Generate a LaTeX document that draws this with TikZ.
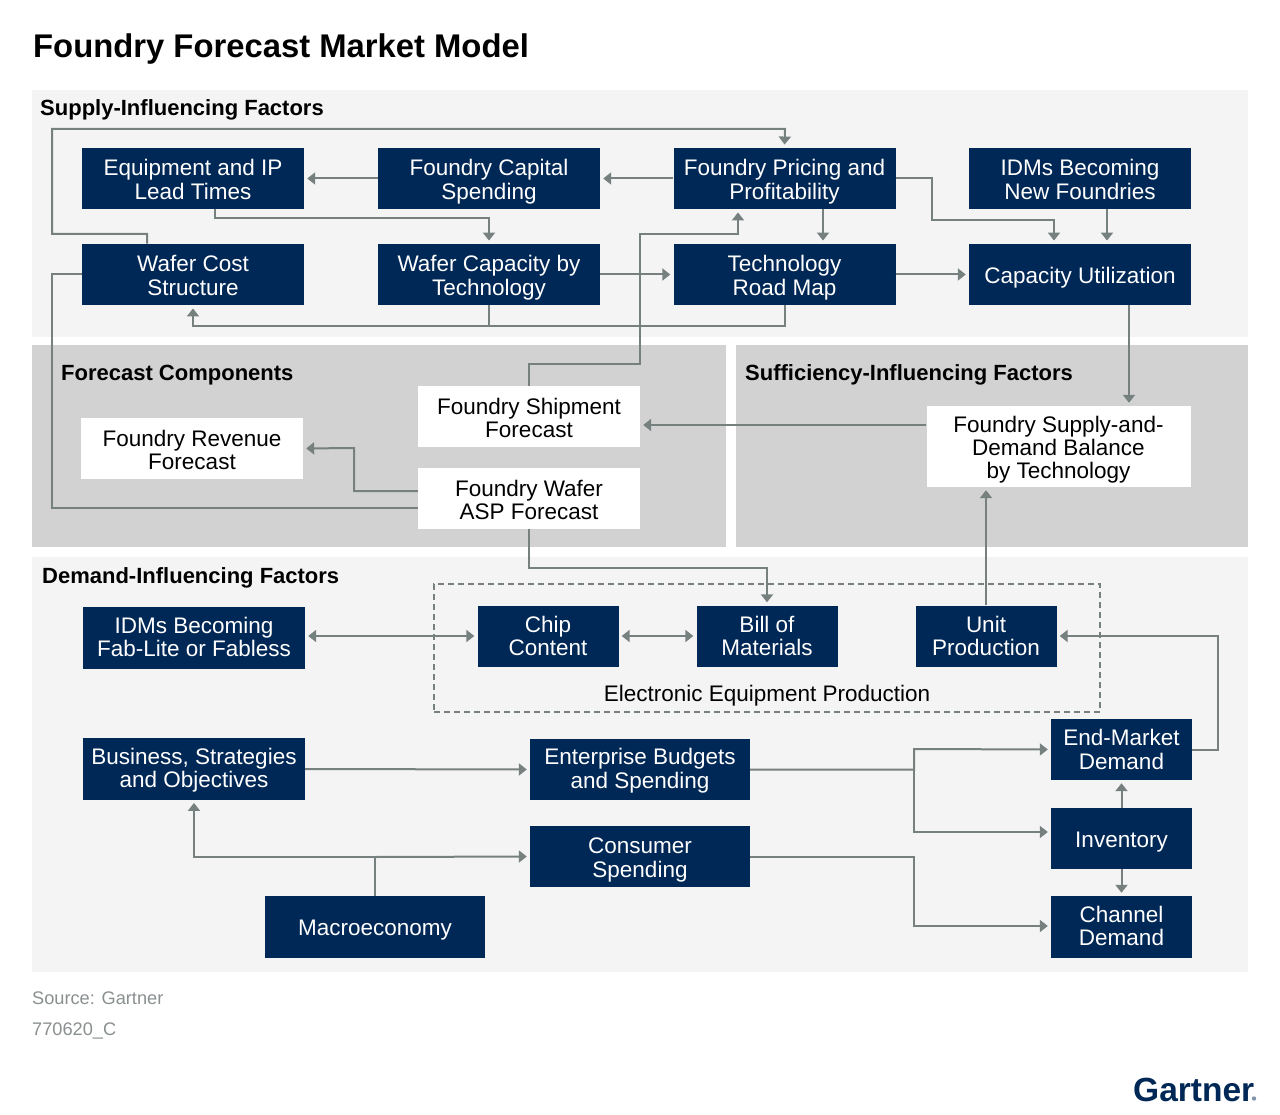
\documentclass[tikz,border=0pt]{standalone}
\usepackage{fontspec}
\setmainfont{Liberation Sans}
\usetikzlibrary{arrows.meta,calc}
\definecolor{navy}{HTML}{002856}
\definecolor{wire}{HTML}{75807F}
\definecolor{panelA}{HTML}{F4F4F4}
\definecolor{panelB}{HTML}{D2D2D2}
\definecolor{note}{HTML}{8A8F90}
\newcommand{\toph}{24pt}
\newcommand{\both}{6pt}
\newcommand{\tp}{\rule{0pt}{\toph}}
\newcommand{\bt}{\rule[-\both]{0pt}{\both}}
\tikzset{
  x=1pt,y=-1pt,
  two/.code={\def\toph{24pt}\def\both{6pt}},
  twomid/.code={\def\toph{22pt}\def\both{6pt}},
  twolow/.code={\def\toph{20pt}\def\both{6pt}},
  single/.code={\def\toph{22.3pt}\def\both{5pt}},
  labelled/.style={align=center,inner sep=0pt},
  navybox/.style={labelled,fill=navy,text=white,font=\fontsize{22.5}{23.5}\selectfont},
  whitebox/.style={labelled,fill=white,text=black,font=\fontsize{22.5}{23}\selectfont},
  big/.style={minimum width=222pt,minimum height=61.5pt},
  small/.style={minimum width=141pt,minimum height=61pt},
  heading/.style={anchor=base west,inner sep=0pt,font=\fontsize{22}{24}\selectfont\bfseries,text=black},
  wireline/.style={draw=wire,line width=2pt},
  arrow/.style={wireline,-{Triangle[length=8pt,width=12pt]},shorten >=3pt},
  both/.style={wireline,{Triangle[length=8pt,width=12pt]}-{Triangle[length=8pt,width=12pt]},shorten >=3pt,shorten <=3pt},
  footnote/.style={anchor=base west,inner sep=0pt,text=note,font=\fontsize{18.2}{20}\selectfont}
}
\begin{document}
\begin{tikzpicture}
\useasboundingbox (0,0) rectangle (1280,1115);
\fill[white] (0,0) rectangle (1280,1115);
% panels
\fill[panelA] (32,90) rectangle (1248,337);
\fill[panelB] (32,345) rectangle (726,547);
\fill[panelB] (736,345) rectangle (1248,547);
\fill[panelA] (32,557) rectangle (1248,972);
\node[anchor=base west,inner sep=0pt,font=\fontsize{32.8}{36}\selectfont\bfseries] (title) at (33,58) {Foundry Forecast Market Model};
\node[heading] (h1) at (40,116) {Supply-Influencing Factors};
\node[heading] (h2) at (61,380) {Forecast Components};
\node[heading] (h3) at (745,381) {Sufficiency-Influencing Factors};
\node[heading] (h4) at (42,583) {Demand-Influencing Factors};
% dashed group
\node[draw=wire,dash pattern=on 6pt off 4pt,line width=1.3pt,minimum width=666pt,minimum height=128pt,inner sep=0pt] (group) at (767,648) {};
\node[inner sep=0pt,font=\fontsize{22.5}{24}\selectfont] (grouplabel) at (767,696) {Electronic Equipment Production};
% supply
\node[navybox,big,two] (equip) at (193,178.5) {\tp Equipment and IP\\Lead Times\bt};
\node[navybox,big,two] (capital) at (489,178.5) {\tp Foundry Capital\\Spending\bt};
\node[navybox,big,two] (pricing) at (784.5,178.5) {\tp Foundry Pricing and\\Profitability\bt};
\node[navybox,big,two] (idmnew) at (1080,178.5) {\tp IDMs Becoming\\New Foundries\bt};
\node[navybox,big,two] (cost) at (193,274.5) {\tp Wafer Cost\\Structure\bt};
\node[navybox,big,two] (capacity) at (489,274.5) {\tp Wafer Capacity by\\Technology\bt};
\node[navybox,big,two] (tech) at (784.5,274.5) {\tp Technology\\Road Map\bt};
\node[navybox,big,single] (util) at (1080,274.5) {\tp Capacity Utilization\bt};
% forecast
\node[whitebox,big,two] (ship) at (529,416.5) {\tp Foundry Shipment\\Forecast\bt};
\node[whitebox,big,two] (rev) at (192,448.5) {\tp Foundry Revenue\\Forecast\bt};
\node[whitebox,big,two] (asp) at (529,498.5) {\tp Foundry Wafer\\ASP Forecast\bt};
\node[whitebox,two,minimum width=264pt,minimum height=81pt] (balance) at (1058.5,446.5) {\tp Foundry Supply-and-\\Demand Balance\\by Technology\bt};
% demand
\node[navybox,big,twolow] (fab) at (194,638) {\tp IDMs Becoming\\Fab-Lite or Fabless\bt};
\node[navybox,small,twomid] (chip) at (548,636) {\tp Chip\\Content\bt};
\node[navybox,small,twomid] (bom) at (767,636) {\tp Bill of\\Materials\bt};
\node[navybox,small,twomid] (unit) at (986,636) {\tp Unit\\Production\bt};
\node[navybox,small,twomid] (end) at (1121.5,749.5) {\tp End-Market\\Demand\bt};
\node[navybox,big,twolow] (biz) at (194,769) {\tp Business, Strategies\\and Objectives\bt};
\node[navybox,big,twolow,minimum width=220pt] (ent) at (640,769.5) {\tp Enterprise Budgets\\and Spending\bt};
\node[navybox,small,single] (inv) at (1121.5,838.5) {\tp Inventory\bt};
\node[navybox,big,two,minimum width=220pt] (cons) at (640,856.5) {\tp Consumer\\Spending\bt};
\node[navybox,small,twolow,minimum height=62pt] (chan) at (1121.5,927) {\tp Channel\\Demand\bt};
\node[navybox,big,single,minimum width=220pt,minimum height=62pt] (macro) at (375,927) {\tp Macroeconomy\bt};
% supply wires
\draw[arrow] (cost.north -| 147,0) |- (52,234) |- (785,129) -- (pricing.north);
\draw[arrow] (capital.west) -- (equip.east);
\draw[arrow] (pricing.west) -- (capital.east);
\draw[arrow] (equip.south -| 215,0) |- (489,218) -- (capacity.north);
\draw[arrow] (pricing.south -| 823,0) -- (tech.north -| 823,0);
\draw[arrow] (pricing.east) -| (932,220) -| (util.north -| 1054,0);
\draw[arrow] (idmnew.south -| 1107,0) -- (util.north -| 1107,0);
\draw[arrow] (capacity.east) -- (tech.west);
\draw[arrow] (tech.east) -- (util.west);
\draw[arrow] (tech.south) |- (193,326) -- (cost.south);
\draw[wireline] (capacity.south) -- (489,326);
\draw[arrow] (ship.north) |- (640,364) |- (738,234) -- (pricing.south -| 738,0);
\draw[wireline] (cost.west) -| (52,508) -- (asp.west |- 0,508);
\draw[arrow] (util.south -| 1129,0) -- (balance.north -| 1129,0);
\draw[arrow] (balance.west |- 0,425) -- (ship.east |- 0,425);
\draw[arrow] (asp.west |- 0,491) -| (354,448) -- (rev.east);
% demand wires
\draw[arrow] (asp.south) |- (767,568) -- (bom.north);
\draw[both] (fab.east |- 0,636) -- (chip.west);
\draw[both] (chip.east) -- (bom.west);
\draw[arrow] (unit.north) -- (balance.south -| unit.north);
\draw[arrow] (end.east) -| (1218,636) -- (unit.east);
\draw[arrow] (biz.east) -- (ent.west);
\draw[arrow] (ent.east) -| (914,749) -- (end.west);
\draw[arrow] (914,769) |- (inv.west |- 0,832);
\draw[arrow] (inv.north) -- (end.south);
\draw[arrow] (inv.south) -- (chan.north);
\draw[arrow] (cons.east) -| (914,926) -- (chan.west |- 0,926);
\draw[wireline] (macro.north) -- (375,857);
\draw[arrow] (375,857) -| (biz.south);
\draw[arrow] (375,857) -- (cons.west);
% footer
\node[footnote] (src) at (32,1004) {Source: Gartner};
\node[footnote] (code) at (32,1035) {770620\_C};
\node[anchor=base west,inner sep=0pt,text=navy,font=\fontsize{33.5}{36}\selectfont\bfseries] (logo) at (1133,1101) {Gartner};
\fill[navy!50] (1254,1098.5) circle (2.2);
\end{tikzpicture}
\end{document}
